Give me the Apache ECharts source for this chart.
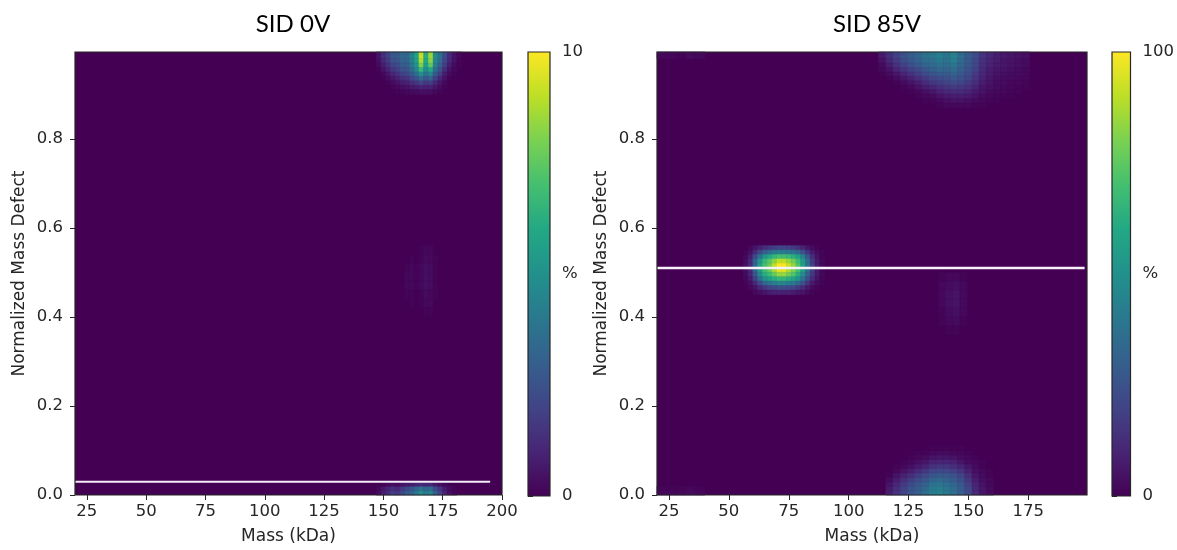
<!DOCTYPE html>
<html><head><meta charset="utf-8">
<script src="https://cdn.jsdelivr.net/npm/echarts@6/dist/echarts.min.js"></script>
<style>html,body{margin:0;padding:0;background:#fff}#c{width:1177px;height:550px}</style>
</head><body><div id="c"></div>
<script>
// ---------------- DATA ----------------
const titles = ['SID 0V', 'SID 85V'];
const massTicksLeft = [25, 50, 75, 100, 125, 150, 175, 200];
const massTicksRight = [25, 50, 75, 100, 125, 150, 175];
const defectTicks = [0, 0.2, 0.4, 0.6, 0.8];
const massRangeLeft = [20, 200];
const massRangeRight = [20, 199.5];
const defectRange = [0, 0.995];
const colorbarTicks = [0, 50, 100];
const colorbarLabelsLeft = ['0', '%', '10'];
const colorbarLabelsRight = ['0', '%', '100'];
const refLineLeft = [[20, 0.03], [195, 0.03]];
const refLineRight = [[20, 0.51], [198.5, 0.51]];

// SID 0V, top blob
const sid0TopMass = [148,150,152,154,156,158,160,162,164,166,168,170,172,174,176,178,180,182];
const sid0TopDefect = [0.99,0.98,0.97,0.96,0.95,0.94,0.93,0.92,0.91,0.90];
const sid0TopValues = [
  [6,14,20,28,28,35,33,44,58,92,62,85,48,38,24,13,6,2],
  [5,13,19,27,28,34,33,44,58,92,62,85,48,37,23,12,5,2],
  [4,11,17,25,26,32,32,42,56,88,60,82,46,35,21,11,5,1],
  [3,8,14,21,23,29,30,39,52,80,56,74,42,31,18,8,3,1],
  [1,5,10,16,19,25,26,34,45,66,48,60,36,25,13,5,2,0],
  [0,2,6,11,14,19,21,28,36,50,38,46,28,18,8,3,1,0],
  [0,1,3,6,9,13,15,20,26,34,27,31,19,11,5,1,0,0],
  [0,0,1,3,5,8,9,13,16,20,17,18,11,6,2,0,0,0],
  [0,0,0,1,2,4,5,7,8,10,9,9,6,3,1,0,0,0],
  [0,0,0,0,1,1,2,3,3,4,4,4,2,1,0,0,0,0]
];
// SID 0V, bottom blob
const sid0BottomMass = [148,150,152,154,156,158,160,162,164,166,168,170,172,174,176,178,180];
const sid0BottomDefect = [0.00,0.01,0.02];
const sid0BottomValues = [
  [3,8,12,18,16,22,28,32,40,48,42,45,30,20,10,4,1],
  [2,6,9,14,12,17,22,26,32,38,33,35,23,15,7,3,1],
  [0,1,2,4,3,5,7,8,10,12,10,11,7,4,2,0,0]
];
// SID 0V, faint middle streak
const sid0MidMass = [160,162,164,166,168,170,172];
const sid0MidDefect = [0.54,0.52,0.50,0.48,0.46,0.44,0.42,0.40];
const sid0MidValues = [
  [0,0,0,1,2,2,0],
  [0,1,0,1,3,2,1],
  [1,2,1,2,4,3,1],
  [2,2,1,2,4,3,1],
  [2,2,1,2,4,3,1],
  [1,1,0,1,3,2,1],
  [0,1,0,1,2,2,0],
  [0,0,0,0,1,1,0]
];

// SID 85V, central blob
const sid85MidMass = [57,59,61,63,65,67,69,71,73,75,77,79,81,83,85,87,89];
const sid85MidDefect = [0.55,0.54,0.53,0.52,0.51,0.50,0.49,0.48,0.47,0.46,0.45];
const sid85MidValues = [
  [0,2,5,9,13,16,18,20,20,19,17,14,10,6,3,1,0],
  [1,4,12,22,30,36,40,42,42,40,38,33,25,15,7,3,1],
  [2,8,22,38,52,60,66,70,70,67,63,56,43,27,13,5,1],
  [3,11,30,52,66,74,82,90,90,84,78,68,53,35,17,7,2],
  [4,12,32,56,70,78,90,100,100,92,84,72,56,37,19,8,2],
  [4,12,31,54,68,76,86,96,96,88,80,70,55,36,18,8,2],
  [3,10,26,48,62,68,76,84,84,78,72,62,48,31,16,7,2],
  [2,7,19,36,50,56,62,66,66,62,58,50,38,24,12,5,1],
  [1,4,11,22,32,38,42,45,45,42,40,34,25,15,7,3,1],
  [0,2,5,11,16,20,22,24,24,22,21,17,12,7,3,1,0],
  [0,0,2,4,6,8,9,9,9,9,8,6,5,3,1,0,0]
];
// SID 85V, top blob
const sid85TopMass = [114,117,120,123,126,129,132,135,138,141,144,147,150,153,156,159,162,165,168,171,174];
const sid85TopDefect = [0.99,0.98,0.97,0.96,0.95,0.94,0.93,0.92,0.91,0.90,0.89,0.88,0.87];
const sid85TopValues = [
  [8,14,20,26,30,34,38,40,44,40,45,36,30,24,16,12,9,7,6,5,4],
  [7,13,19,25,29,33,37,39,43,39,44,35,29,23,15,11,8,7,6,5,4],
  [5,11,17,23,27,31,35,37,41,38,42,34,28,22,14,10,8,6,5,4,3],
  [3,8,14,19,24,28,32,34,37,35,39,32,27,21,13,9,7,6,5,4,3],
  [2,5,10,15,19,23,27,30,33,32,35,30,25,19,12,8,6,5,4,3,2],
  [1,3,6,10,14,18,22,25,28,28,31,27,23,17,11,7,5,4,3,3,2],
  [0,1,3,6,9,13,17,20,23,24,27,24,20,15,9,6,4,3,3,2,2],
  [0,0,1,3,5,8,12,15,18,20,22,20,17,13,8,5,3,3,2,2,1],
  [0,0,0,1,2,5,8,10,13,15,17,16,14,10,6,4,3,2,2,1,1],
  [0,0,0,0,1,2,4,6,9,11,12,12,10,7,5,3,2,2,1,1,0],
  [0,0,0,0,0,1,2,3,5,7,8,8,7,5,3,2,1,1,1,0,0],
  [0,0,0,0,0,0,1,1,2,4,5,5,4,3,2,1,1,0,0,0,0],
  [0,0,0,0,0,0,0,0,1,2,2,2,2,1,1,0,0,0,0,0,0]
];
// SID 85V, bottom blob
const sid85BottomMass = [117,120,123,126,129,132,135,138,141,144,147,150,153,156,159];
const sid85BottomDefect = [0.00,0.01,0.02,0.03,0.04,0.05,0.06,0.07,0.08,0.09,0.10];
const sid85BottomValues = [
  [8,14,20,26,30,36,42,44,40,36,30,22,12,6,3],
  [7,13,19,25,29,34,40,42,39,35,29,21,11,6,3],
  [5,11,17,22,27,31,37,39,36,33,27,19,10,5,2],
  [3,8,13,18,23,27,32,34,32,29,24,16,8,4,2],
  [1,5,9,13,18,22,26,28,27,25,20,13,6,3,1],
  [0,2,5,8,12,16,20,22,21,19,15,9,4,2,1],
  [0,1,2,4,7,10,14,16,15,13,10,6,3,1,0],
  [0,0,1,2,4,6,9,10,10,9,6,3,2,1,0],
  [0,0,0,1,2,3,5,6,6,5,3,2,1,0,0],
  [0,0,0,0,1,1,2,3,3,2,2,1,0,0,0],
  [0,0,0,0,0,0,1,1,1,1,1,0,0,0,0]
];
// SID 85V, faint middle streak
const sid85FaintMass = [139,142,145,148];
const sid85FaintDefect = [0.48,0.46,0.44,0.42,0.40,0.38,0.36];
const sid85FaintValues = [
  [1,2,2,1],[2,3,4,2],[2,4,5,2],[2,4,5,2],[1,3,4,2],[1,2,3,1],[0,1,1,0]
];
// SID 85V, faint low-mass traces at the edges
const sid85LowMass = [22,26,30,34,38];
const sid85LowTopDefect = [0.99,0.98];
const sid85LowTopValues = [[3,2,2,3,3],[2,2,1,3,2]];
const sid85LowBottomDefect = [0.01,0.00];
const sid85LowBottomValues = [[1,1,1,2,1],[2,2,2,3,2]];

// ---------------- STYLE ----------------
const viridis = ['#440154','#482475','#414487','#355f8d','#2a788e','#21918c','#22a884','#44bf70','#7ad151','#bddf26','#fde725'];
const txt = '#262626';
const tickFont = {fontFamily: 'DejaVu Sans', fontSize: 16.5, color: txt};
const nameFont = {fontFamily: 'DejaVu Sans', fontSize: 17, color: txt};

function cells(masses, defects, values) {
  const w = Math.abs(masses[1] - masses[0]);
  const h = Math.abs(defects[0] - defects[1]);
  const out = [];
  defects.forEach((d, i) => masses.forEach((m, j) => {
    const v = values[i][j];
    if (v > 0) out.push([m, d, v, w, h]);
  }));
  return out;
}
const leftCells = [].concat(
  cells(sid0TopMass, sid0TopDefect, sid0TopValues),
  cells(sid0BottomMass, sid0BottomDefect, sid0BottomValues),
  cells(sid0MidMass, sid0MidDefect, sid0MidValues)
);
const rightCells = [].concat(
  cells(sid85TopMass, sid85TopDefect, sid85TopValues),
  cells(sid85BottomMass, sid85BottomDefect, sid85BottomValues),
  cells(sid85FaintMass, sid85FaintDefect, sid85FaintValues),
  cells(sid85LowMass, sid85LowTopDefect, sid85LowTopValues),
  cells(sid85LowMass, sid85LowBottomDefect, sid85LowBottomValues),
  cells(sid85MidMass, sid85MidDefect, sid85MidValues)
);

function renderCell(params, api) {
  const m = api.value(0), d = api.value(1), w = api.value(3), h = api.value(4);
  const p1 = api.coord([m - w / 2, d + h]);
  const p2 = api.coord([m + w / 2, d]);
  const cs = params.coordSys;
  const rect = echarts.graphic.clipRectByRect(
    {x: p1[0], y: p1[1], width: p2[0] - p1[0], height: p2[1] - p1[1]},
    {x: cs.x, y: cs.y, width: cs.width, height: cs.height});
  if (!rect) return;
  const c = api.visual('color');
  return {type: 'rect', shape: rect, style: {fill: c, stroke: c, lineWidth: 0.6}};
}
function renderFrame(params) {
  const cs = params.coordSys;
  return {type: 'rect', shape: {x: cs.x, y: cs.y, width: cs.width, height: cs.height},
    style: {fill: 'none', stroke: txt, lineWidth: 1.2}, z2: 100};
}
function renderColorbar(params, api) {
  const p1 = api.coord([0, colorbarTicks[colorbarTicks.length - 1]]);
  const p2 = api.coord([1, colorbarTicks[0]]);
  return {type: 'rect', shape: {x: p1[0], y: p1[1], width: p2[0] - p1[0], height: p2[1] - p1[1]},
    style: {fill: new echarts.graphic.LinearGradient(0, 1, 0, 0,
      viridis.map((c, i) => ({offset: i / (viridis.length - 1), color: c}))),
      stroke: txt, lineWidth: 1.2}};
}

function massAxis(gi, range, ticks) {
  return {type: 'value', gridIndex: gi, min: range[0], max: range[1],
    axisLine: {show: false}, splitLine: {show: false},
    axisTick: {show: true, customValues: ticks, length: 5, lineStyle: {color: txt}},
    axisLabel: Object.assign({customValues: ticks, margin: 8}, tickFont),
    name: 'Mass (kDa)', nameLocation: 'middle', nameGap: 33, nameTextStyle: nameFont};
}
function defectAxis(gi) {
  return {type: 'value', gridIndex: gi, min: defectRange[0], max: defectRange[1],
    axisLine: {show: false}, splitLine: {show: false},
    axisTick: {show: true, customValues: defectTicks, length: 5, lineStyle: {color: txt}},
    axisLabel: Object.assign({customValues: defectTicks, margin: 12, formatter: v => v.toFixed(1)}, tickFont),
    name: 'Normalized Mass Defect', nameLocation: 'middle', nameGap: 47, nameTextStyle: nameFont};
}
function cbAxisY(gi, labels) {
  return {type: 'value', gridIndex: gi, position: 'right', min: colorbarTicks[0], max: colorbarTicks[colorbarTicks.length - 1],
    axisLine: {show: false}, splitLine: {show: false},
    axisTick: {show: true, customValues: colorbarTicks, length: 5, lineStyle: {color: txt}},
    axisLabel: Object.assign({customValues: colorbarTicks, margin: 12,
      formatter: v => labels[colorbarTicks.indexOf(v)]}, tickFont)};
}
function cbAxisX(gi) {
  return {type: 'value', gridIndex: gi, min: 0, max: 1, show: false};
}

const chart = echarts.init(document.getElementById('c'), null, {renderer: 'canvas'});
chart.setOption({
  animation: false,
  backgroundColor: '#fff',
  title: [
    {text: titles[0], left: 288, top: 7, textAlign: 'center',
      textStyle: {fontFamily: 'Lato', fontSize: 24, fontWeight: 'normal', color: '#000'}},
    {text: titles[1], left: 872, top: 7, textAlign: 'center',
      textStyle: {fontFamily: 'Lato', fontSize: 24, fontWeight: 'normal', color: '#000'}}
  ],
  grid: [
    {left: 75, top: 52, width: 427, height: 444, show: true, backgroundColor: viridis[0], borderWidth: 0},
    {left: 657, top: 52, width: 430, height: 444, show: true, backgroundColor: viridis[0], borderWidth: 0},
    {left: 528, top: 52, width: 22, height: 444},
    {left: 1112, top: 52, width: 23, height: 444}
  ],
  xAxis: [massAxis(0, massRangeLeft, massTicksLeft), massAxis(1, massRangeRight, massTicksRight), cbAxisX(2), cbAxisX(3)],
  yAxis: [defectAxis(0), defectAxis(1), cbAxisY(2, colorbarLabelsLeft), cbAxisY(3, colorbarLabelsRight)],
  visualMap: {show: false, type: 'continuous', min: 0, max: 100, dimension: 2, seriesIndex: [0, 1],
    inRange: {color: viridis}},
  series: [
    {type: 'custom', xAxisIndex: 0, yAxisIndex: 0, data: leftCells, renderItem: renderCell, silent: true, z: 2},
    {type: 'custom', xAxisIndex: 1, yAxisIndex: 1, data: rightCells, renderItem: renderCell, silent: true, z: 2},
    {type: 'line', xAxisIndex: 0, yAxisIndex: 0, data: refLineLeft, showSymbol: false, silent: true, z: 5,
      lineStyle: {color: '#f3edf7', width: 2}},
    {type: 'line', xAxisIndex: 1, yAxisIndex: 1, data: refLineRight, showSymbol: false, silent: true, z: 5,
      lineStyle: {color: '#f6f2fa', width: 2.5}},
    {type: 'custom', xAxisIndex: 0, yAxisIndex: 0, data: [[massRangeLeft[0], defectRange[0]]], renderItem: renderFrame, silent: true, z: 10},
    {type: 'custom', xAxisIndex: 1, yAxisIndex: 1, data: [[massRangeRight[0], defectRange[0]]], renderItem: renderFrame, silent: true, z: 10},
    {type: 'custom', xAxisIndex: 2, yAxisIndex: 2, data: [[0, 0]], renderItem: renderColorbar, silent: true, z: 3},
    {type: 'custom', xAxisIndex: 3, yAxisIndex: 3, data: [[0, 0]], renderItem: renderColorbar, silent: true, z: 3}
  ]
});
</script>
</body></html>
